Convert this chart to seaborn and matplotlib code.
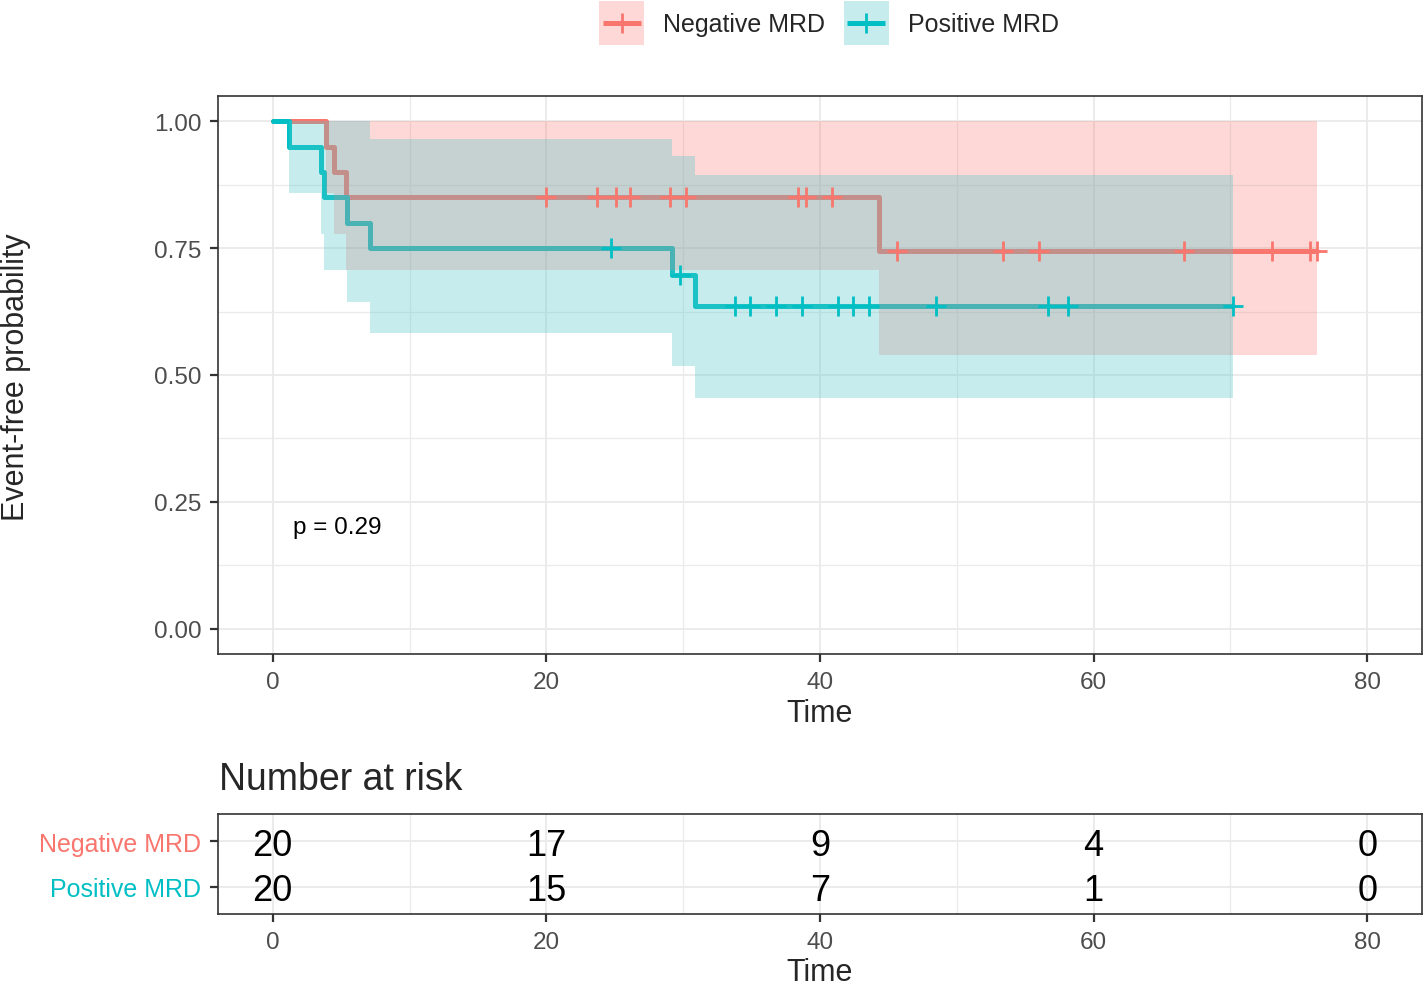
import numpy as np
import pandas as pd
import matplotlib
matplotlib.use("Agg")
import matplotlib.pyplot as plt
from matplotlib.patches import Rectangle
from matplotlib.lines import Line2D
from matplotlib.legend_handler import HandlerBase
import seaborn as sns

# ---------------- data ----------------
groups = ["Negative MRD", "Positive MRD"]
colors = ["#F8766D", "#00BFC4"]
fill_colors = ["#F8766D", "#51C6C8"]
fill_alphas = [0.28, 0.32]

neg_time = [0.0, 3.87, 4.48, 5.33, 44.3, 76.3]
neg_surv = [1.0, 0.95, 0.90, 0.85, 0.744, 0.744]
neg_lower = [1.0, 0.859, 0.778, 0.707, 0.540, 0.540]
neg_upper = [1.0, 1.0, 1.0, 1.0, 1.0, 1.0]
neg_censor = [20.0, 23.7, 25.1, 26.1, 29.0, 30.2, 38.4, 39.0, 40.9,
              45.6, 53.4, 56.0, 66.6, 73.0, 75.8, 76.3]

pos_time = [0.0, 1.19, 3.5, 3.75, 5.45, 7.08, 29.2, 30.9, 70.2]
pos_surv = [1.0, 0.95, 0.90, 0.85, 0.80, 0.75, 0.697, 0.636, 0.636]
pos_lower = [1.0, 0.859, 0.778, 0.707, 0.643, 0.583, 0.518, 0.455, 0.455]
pos_upper = [1.0, 1.0, 1.0, 1.0, 1.0, 0.965, 0.932, 0.894, 0.894]
pos_censor = [24.7, 29.8, 33.8, 34.9, 36.8, 38.7, 41.3, 42.4, 43.6,
              48.5, 56.7, 58.1, 70.2]

risk_times = [0, 20, 40, 60, 80]
neg_risk = [20, 17, 9, 4, 0]
pos_risk = [20, 15, 7, 1, 0]

x_ticks = [0, 20, 40, 60, 80]
y_ticks = [0.0, 0.25, 0.50, 0.75, 1.00]
y_ticklabels = ["0.00", "0.25", "0.50", "0.75", "1.00"]
p_text = "p = 0.29"

# ---------------- style ----------------
sns.set_theme(style="white")
plt.rcParams["font.family"] = ["Liberation Sans", "DejaVu Sans"]

W, H = 1426, 987
fig = plt.figure(figsize=(W / 100, H / 100), dpi=100)

def fx(px):
    return px / W

def fy(py):
    return 1 - py / H

BORDER = "#333333"
GRID = "#EBEBEB"
TICKLAB = "#4D4D4D"
LW = 3.6

ax = fig.add_axes([fx(218), fy(655), fx(1204), 558 / H])
tab = fig.add_axes([fx(218), fy(915), fx(1204), 100 / H])

curves = [
    (neg_time, neg_surv, neg_lower, neg_upper, neg_censor),
    (pos_time, pos_surv, pos_lower, pos_upper, pos_censor),
]

# survival step lines (drawn first, ribbons drawn over them as in ggsurvplot)
for (t, s, lo, up, cen), g, c in zip(curves, groups, colors):
    df = pd.DataFrame({"time": t, "surv": s})
    sns.lineplot(data=df, x="time", y="surv", ax=ax, color=c, linewidth=LW,
                 drawstyle="steps-post", estimator=None, sort=False,
                 legend=False, zorder=3)

for (t, s, lo, up, cen), fc, fa in zip(curves, fill_colors, fill_alphas):
    ax.fill_between(t, lo, up, step="post", color=fc, alpha=fa,
                    linewidth=0, zorder=4)

# censor marks
for (t, s, lo, up, cen), c in zip(curves, colors):
    idx = np.searchsorted(np.array(t), np.array(cen), side="right") - 1
    cy = np.array(s)[idx]
    dfc = pd.DataFrame({"time": cen, "surv": cy})
    sns.scatterplot(data=dfc, x="time", y="surv", ax=ax, marker="+",
                    color=c, s=210, linewidth=2.0, legend=False, zorder=5)

ax.text(1.5, 0.2, p_text, fontsize=17.5, ha="left", va="center",
        color="black", zorder=6)

for a in (ax, tab):
    a.set_xlim(-4, 84)
    a.set_xticks(x_ticks)
    a.set_xticklabels([str(v) for v in x_ticks])
    a.set_xticks([10, 30, 50, 70], minor=True)
    a.grid(True, which="major", color=GRID, linewidth=1.4, zorder=0)
    a.grid(True, which="minor", axis="x", color=GRID, linewidth=0.9, zorder=0)
    a.set_axisbelow(True)
    for sp in a.spines.values():
        sp.set_visible(True)
        sp.set_color(BORDER)
        sp.set_linewidth(1.2)
    a.tick_params(axis="both", which="major", length=6, width=1.6,
                  color=BORDER, labelsize=17.5, labelcolor=TICKLAB, pad=6,
                  bottom=True, left=True)
    a.tick_params(axis="both", which="minor", length=0)
    a.set_facecolor("white")

ax.set_ylim(-0.05, 1.05)
ax.set_yticks(y_ticks)
ax.set_yticklabels(y_ticklabels)
ax.set_yticks([0.125, 0.375, 0.625, 0.875], minor=True)
ax.grid(True, which="minor", axis="y", color=GRID, linewidth=0.9, zorder=0)
ax.set_xlabel("")
ax.set_ylabel("")

fig.text(fx(820), fy(714), "Time", fontsize=22, ha="center", va="center")
fig.text(fx(16), fy(377), "Event-free probability", fontsize=22,
         ha="center", va="center", rotation=90)

# ---------------- risk table ----------------
tab.set_ylim(0.4, 2.6)
tab.set_yticks([2, 1])
tab.set_yticklabels(groups, fontsize=18)
for lab, c in zip(tab.get_yticklabels(), colors):
    lab.set_color(c)
for xv, nv, pv in zip(risk_times, neg_risk, pos_risk):
    tab.text(xv, 2, str(nv), fontsize=26, ha="center", va="center_baseline",
             color="black")
    tab.text(xv, 1, str(pv), fontsize=26, ha="center", va="center_baseline",
             color="black")
tab.set_xlabel("")
tab.set_ylabel("")
fig.text(fx(219), fy(790), "Number at risk", fontsize=27, ha="left",
         va="baseline")
fig.text(fx(820), fy(973), "Time", fontsize=22, ha="center", va="center")

# ---------------- legend ----------------
class KeyProxy:
    def __init__(self, line_color, fill_color, fill_alpha):
        self.line_color = line_color
        self.fill_color = fill_color
        self.fill_alpha = fill_alpha


class KeyHandler(HandlerBase):
    def create_artists(self, legend, orig_handle, xdescent, ydescent,
                       width, height, fontsize, trans):
        x0, y0 = -xdescent, -ydescent
        cy = y0 + height / 2
        rect = Rectangle((x0, y0), width, height,
                         facecolor=orig_handle.fill_color,
                         alpha=orig_handle.fill_alpha, edgecolor="none",
                         transform=trans)
        line = Line2D([x0 + width * 0.08, x0 + width * 0.92], [cy, cy],
                      color=orig_handle.line_color, linewidth=LW,
                      solid_capstyle="butt", transform=trans)
        mark = Line2D([x0 + width / 2], [cy], linestyle="none", marker="+",
                      markersize=14, markeredgewidth=2.0,
                      color=orig_handle.line_color, transform=trans)
        return [rect, line, mark]


handles = [KeyProxy(c, fc, fa) for c, fc, fa in zip(colors, fill_colors, fill_alphas)]
fig.legend(handles, groups, handler_map={KeyProxy: KeyHandler()},
           loc="center", bbox_to_anchor=(fx(829), fy(24)), ncol=2,
           frameon=False, fontsize=18, handlelength=1.8, handleheight=2.33,
           handletextpad=0.75, columnspacing=0.75, borderpad=0.1)

fig.savefig("out.png", dpi=100, facecolor="white")
